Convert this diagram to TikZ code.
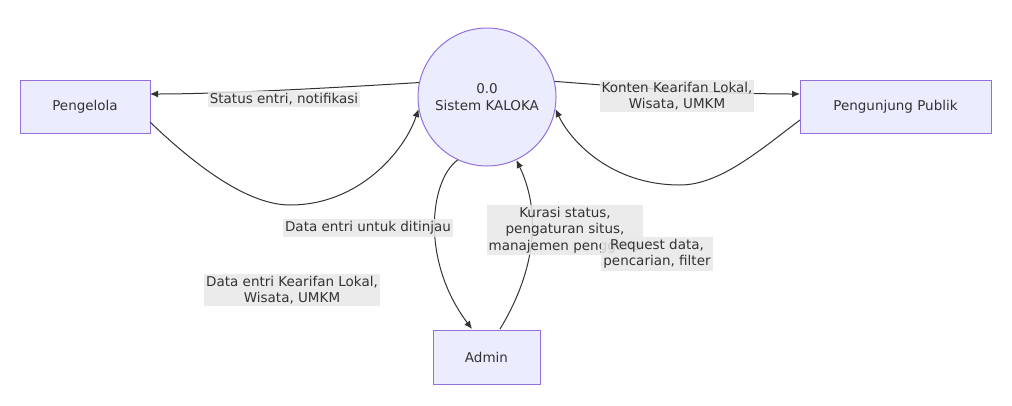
\documentclass[tikz,border=0pt]{standalone}
\usepackage{fontspec}
\setmainfont{DejaVu Sans}
\usetikzlibrary{arrows.meta}
\definecolor{nfill}{HTML}{ECECFF}
\definecolor{nline}{HTML}{9370DB}
\definecolor{lbg}{HTML}{E8E8E8}
\definecolor{ed}{HTML}{333333}
\begin{document}
\begin{tikzpicture}[x=1pt,y=-1pt,
  box/.style={draw=nline,fill=nfill,line width=1pt,font=\fontsize{13.5}{16.5}\selectfont,text=ed},
  proc/.style={circle,draw=nline,fill=nfill,line width=1pt,minimum size=138pt,align=center,font=\fontsize{13.5}{16.5}\selectfont,text=ed},
  lab/.style={fill=lbg,fill opacity=0.85,text opacity=1,align=center,inner sep=2pt,font=\fontsize{13.5}{16.5}\selectfont,text=ed},
  e/.style={draw=ed,line width=1pt,-{Latex[length=8pt,width=7pt]}}]
\useasboundingbox (0,0) rectangle (1012,405);
\node[box,minimum width=130pt,minimum height=53pt] (p) at (85,106.5) {Pengelola};
\node[proc] (s) at (487,97) {0.0\\Sistem KALOKA};
\node[box,minimum width=191pt,minimum height=53pt] (u) at (895.5,106.5) {Pengunjung Publik};
\node[box,minimum width=107pt,minimum height=54pt] (a) at (486.5,357) {Admin};
\coordinate (pr1) at (150,94);
\coordinate (pr2) at (150,122);
\coordinate (ur1) at (800,94);
\coordinate (ur2) at (800,120);
\coordinate (at1) at (472,329);
\coordinate (at2) at (500,329);
\draw[e] (s.168) .. controls (330,88) and (220,94) .. (pr1);
\draw[e] (pr2) .. controls (200,170) and (250,205) .. (290,205) .. controls (360,205) and (405,150) .. (s.190);
\draw[e] (s.13) .. controls (640,88) and (720,94) .. (ur1);
\draw[e] (ur2) .. controls (760,150) and (720,185) .. (680,185) .. controls (610,185) and (570,140) .. (s.350);
\draw[e] (s.245) .. controls (430,180) and (420,260) .. (at1);
\draw[e] (at2) .. controls (530,280) and (545,220) .. (s.295);
\node[lab] at (284,99) {Status entri, notifikasi};
\node[lab] at (292,290) {Data entri Kearifan Lokal,\\Wisata, UMKM};
\node[lab] at (677,96) {Konten Kearifan Lokal,\\Wisata, UMKM};
\node[lab] at (368,228) {Data entri untuk ditinjau};
\node[lab] at (565,230) {Kurasi status,\\pengaturan situs,\\manajemen pengguna};
\node[lab] at (657,254) {Request data,\\pencarian, filter};
\end{tikzpicture}
\end{document}
